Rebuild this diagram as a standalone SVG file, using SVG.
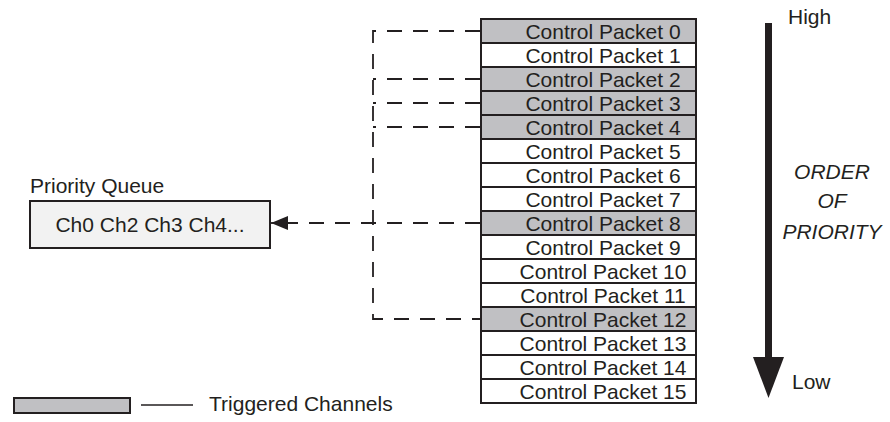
<svg xmlns="http://www.w3.org/2000/svg" width="890" height="422" viewBox="0 0 890 422">
<style>
text{font-family:"Liberation Sans",Arial,sans-serif;font-size:21px;fill:#231f20}
.row{stroke:#231f20;stroke-width:2}
.trig{fill:#c0c0c3}
.plain{fill:#ffffff}
.c{text-anchor:middle}
.dash{fill:none;stroke:#231f20;stroke-width:1.8;stroke-dasharray:15 11}
.it{font-style:italic;text-anchor:middle}
</style>
<defs>
<marker id="ah" markerWidth="17" markerHeight="14" refX="17" refY="7" orient="auto" markerUnits="userSpaceOnUse">
<path d="M0,0 L17,7 L0,14 Z" fill="#231f20"/>
</marker>
</defs>
<g id="connectors">
<path class="dash" d="M480,31 H373 V319 H480"/>
<path class="dash" d="M480,79 H373"/>
<path class="dash" d="M480,103 H373"/>
<path class="dash" d="M480,127 H373"/>
<path class="dash" d="M480,223 H288"/>
<path d="M288,223 L271,223" stroke="#231f20" stroke-width="1.8" marker-end="url(#ah)"/>
</g>
<g id="queue">
<text x="30" y="193">Priority Queue</text>
<rect x="30" y="201" width="240" height="47" fill="#f2f2f2" stroke="#231f20" stroke-width="2"/>
<text class="c" x="150" y="232">Ch0 Ch2 Ch3 Ch4...</text>
</g>
<g id="table">
<rect class="row trig" x="481" y="19" width="215" height="24"/><text class="c" x="603" y="39">Control Packet 0</text>
<rect class="row plain" x="481" y="43" width="215" height="24"/><text class="c" x="603" y="63">Control Packet 1</text>
<rect class="row trig" x="481" y="67" width="215" height="24"/><text class="c" x="603" y="87">Control Packet 2</text>
<rect class="row trig" x="481" y="91" width="215" height="24"/><text class="c" x="603" y="111">Control Packet 3</text>
<rect class="row trig" x="481" y="115" width="215" height="24"/><text class="c" x="603" y="135">Control Packet 4</text>
<rect class="row plain" x="481" y="139" width="215" height="24"/><text class="c" x="603" y="159">Control Packet 5</text>
<rect class="row plain" x="481" y="163" width="215" height="24"/><text class="c" x="603" y="183">Control Packet 6</text>
<rect class="row plain" x="481" y="187" width="215" height="24"/><text class="c" x="603" y="207">Control Packet 7</text>
<rect class="row trig" x="481" y="211" width="215" height="24"/><text class="c" x="603" y="231">Control Packet 8</text>
<rect class="row plain" x="481" y="235" width="215" height="24"/><text class="c" x="603" y="255">Control Packet 9</text>
<rect class="row plain" x="481" y="259" width="215" height="24"/><text class="c" x="603" y="279">Control Packet 10</text>
<rect class="row plain" x="481" y="283" width="215" height="24"/><text class="c" x="603" y="303">Control Packet 11</text>
<rect class="row trig" x="481" y="307" width="215" height="24"/><text class="c" x="603" y="327">Control Packet 12</text>
<rect class="row plain" x="481" y="331" width="215" height="24"/><text class="c" x="603" y="351">Control Packet 13</text>
<rect class="row plain" x="481" y="355" width="215" height="24"/><text class="c" x="603" y="375">Control Packet 14</text>
<rect class="row plain" x="481" y="379" width="215" height="24"/><text class="c" x="603" y="399">Control Packet 15</text>
</g>
<g id="priority-arrow">
<rect x="765" y="23" width="7" height="336" fill="#231f20"/>
<polygon points="753,357 784,357 768.5,398" fill="#231f20"/>
<text x="788" y="24">High</text>
<text x="792" y="389">Low</text>
<text class="it" x="832" y="179">ORDER</text>
<text class="it" x="832" y="208">OF</text>
<text class="it" x="832" y="239">PRIORITY</text>
</g>
<g id="legend">
<rect x="14" y="398" width="116" height="15" fill="#c0c0c3" stroke="#231f20" stroke-width="2"/>
<line x1="141" y1="405" x2="193" y2="405" stroke="#231f20" stroke-width="1.6"/>
<text x="209" y="411">Triggered Channels</text>
</g>
</svg>
